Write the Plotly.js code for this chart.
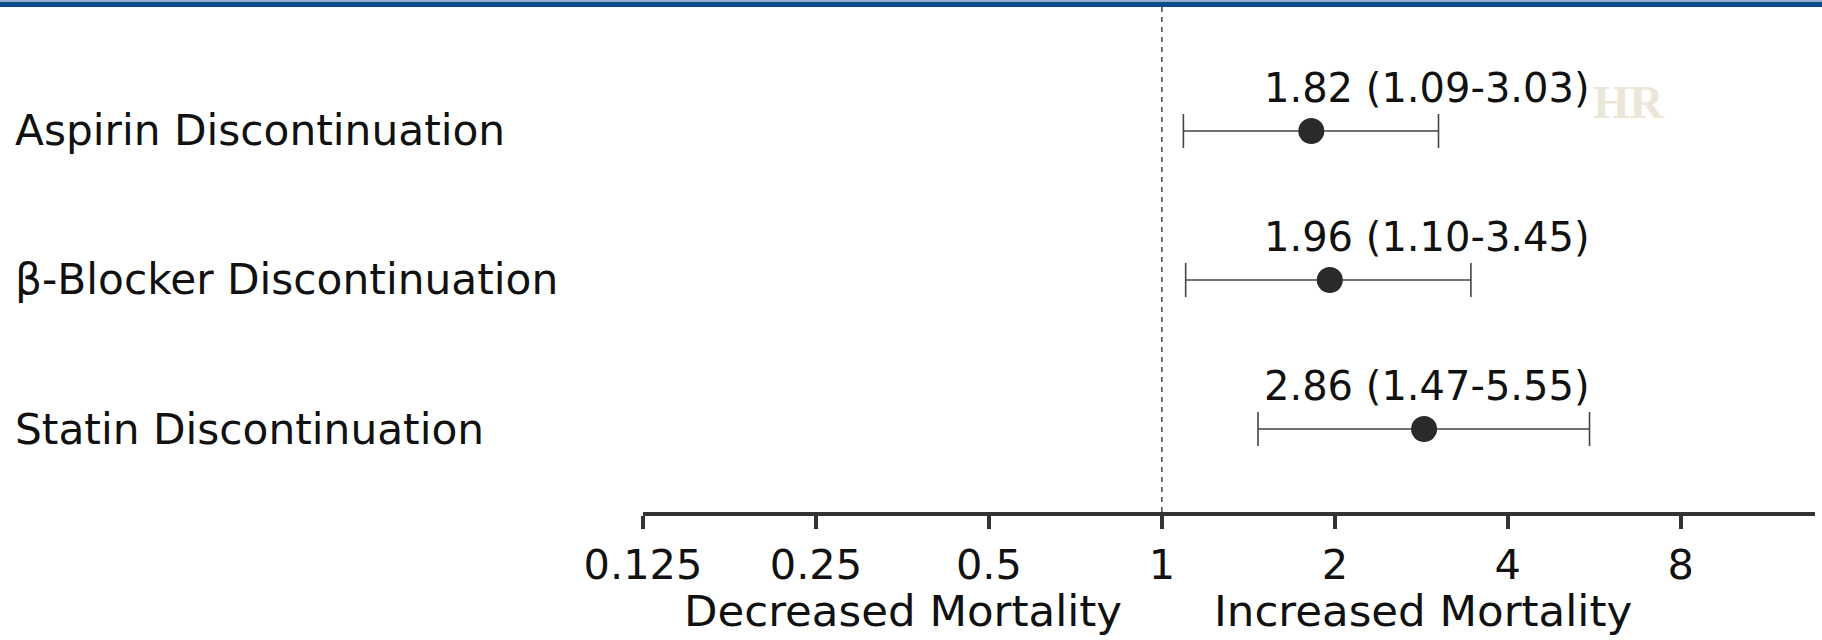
<!DOCTYPE html>
<html>
<head>
<meta charset="utf-8">
<script src="https://cdn.plot.ly/plotly-3.0.1.min.js"></script>
<style>
html,body{margin:0;padding:0;background:#fff;}
#chart{width:1822px;height:640px;}
</style>
</head>
<body>
<div id="chart"></div>
<script>
// Data
const categories = ["Aspirin Discontinuation", "β-Blocker Discontinuation", "Statin Discontinuation"];
const hazardRatio = [1.82, 1.96, 2.86];
const ciLower = [1.09, 1.10, 1.47];
const ciUpper = [3.03, 3.45, 5.55];
const tickValues = [0.125, 0.25, 0.5, 1, 2, 4, 8];
const tickLabels = ["0.125", "0.25", "0.5", "1", "2", "4", "8"];
const directionLabels = ["Decreased Mortality", "Increased Mortality"];

const FONT = "DejaVu Sans, Liberation Sans, Arial, sans-serif";

const trace = {
  type: "scatter",
  mode: "markers",
  x: hazardRatio,
  y: categories,
  marker: {size: 26, color: "#2a2a2a"},
  error_x: {
    type: "data",
    symmetric: false,
    array: hazardRatio.map((v, i) => ciUpper[i] - v),
    arrayminus: hazardRatio.map((v, i) => v - ciLower[i]),
    color: "#444",
    thickness: 1.6,
    width: 17
  },
  hoverinfo: "skip",
  showlegend: false
};

const annotations = [];
categories.forEach((c, i) => {
  annotations.push({
    xref: "paper", yref: "y", x: -0.5375, y: c,
    xanchor: "left", yanchor: "middle",
    text: c, showarrow: false,
    font: {family: FONT, size: 42.3, color: "#111"}
  });
  annotations.push({
    xref: "paper", yref: "y", x: 0.528, y: c, yshift: 43,
    xanchor: "left", yanchor: "middle",
    text: `${hazardRatio[i].toFixed(2)} (${ciLower[i].toFixed(2)}-${ciUpper[i].toFixed(2)})`,
    showarrow: false,
    font: {family: FONT, size: 40, color: "#111"}
  });
});
annotations.push({
  xref: "paper", yref: "paper", x: 0.2218, y: -0.196,
  xanchor: "center", yanchor: "middle", text: directionLabels[0], showarrow: false,
  font: {family: FONT, size: 43.5, color: "#111"}
});
annotations.push({
  xref: "paper", yref: "paper", x: 0.6655, y: -0.196,
  xanchor: "center", yanchor: "middle", text: directionLabels[1], showarrow: false,
  font: {family: FONT, size: 43.5, color: "#111"}
});
annotations.push({
  xref: "paper", yref: "paper", x: 0.841, y: 0.812,
  xanchor: "center", yanchor: "middle", text: "<b>HR</b>", showarrow: false,
  font: {family: "Liberation Serif, Times New Roman, serif", size: 47, color: "#ebe7d8"}
});

const layout = {
  width: 1822, height: 640,
  margin: {l: 643, r: 7, t: 7, b: 128},
  paper_bgcolor: "#fff", plot_bgcolor: "#fff",
  xaxis: {
    type: "log",
    range: [Math.log10(0.125), Math.log10(13.7)],
    tickvals: tickValues, ticktext: tickLabels,
    ticks: "outside", ticklen: 13, tickwidth: 3.5, tickcolor: "#333",
    showline: true, linewidth: 4, linecolor: "#333",
    showgrid: false, zeroline: false,
    tickfont: {family: FONT, size: 41.5, color: "#111"},
    fixedrange: true
  },
  yaxis: {
    type: "category",
    categoryarray: categories.slice().reverse(),
    categoryorder: "array",
    range: [-0.557, 2.832],
    showticklabels: false, showgrid: false, zeroline: false, showline: false, ticks: "",
    fixedrange: true
  },
  shapes: [
    {type: "line", xref: "x", yref: "paper", x0: 1, x1: 1, y0: 0, y1: 1,
     line: {color: "#444", width: 1.5, dash: "5px,5px"}},
    {type: "rect", xref: "paper", yref: "paper", x0: -0.6, x1: 1.1,
     ysizemode: "pixel", yanchor: 1, y0: 0, y1: 5.5,
     fillcolor: "#0b4c8c", line: {width: 0}},
    {type: "rect", xref: "paper", yref: "paper", x0: -0.6, x1: 1.1,
     ysizemode: "pixel", yanchor: 1, y0: 5.5, y1: 7,
     fillcolor: "#9fb5cf", line: {width: 0}}
  ],
  annotations: annotations
};

Plotly.newPlot("chart", [trace], layout, {displayModeBar: false, staticPlot: true});
</script>
</body>
</html>
